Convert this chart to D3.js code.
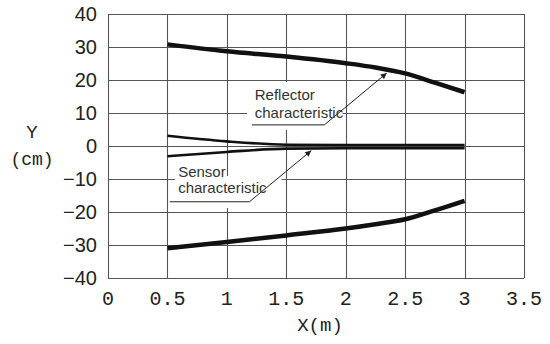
<!DOCTYPE html>
<html>
  <head>
    <meta charset="UTF-8">
    <title>Reflector and sensor characteristic</title>
    <style>
      body { margin: 0; background: #fff; }
    </style>
  </head>
  <body>
    <svg></svg>
    <script src="https://d3js.org/d3.v7.min.js"></script>
    <script>

// data (X in m, Y in cm)
var reflectorX     = [0.5, 1, 1.5, 2, 2.25, 2.5, 2.75, 3];
var reflectorUpper = [30.8, 28.7, 27.1, 25.1, 23.8, 22.0, 19.2, 16.3];
var reflectorLower = [-31.0, -29.1, -27.1, -25.0, -23.7, -22.2, -19.5, -16.6];

var sensorX     = [0.5, 1, 1.5, 2, 2.5, 3];
var sensorUpper = [3.1, 1.4, 0.4, 0.3, 0.3, 0.3];
var sensorLower = [-3.1, -1.8, -0.8, -0.7, -0.7, -0.7];

var xTicks = [0, 0.5, 1, 1.5, 2, 2.5, 3, 3.5];
var yTicks = [-40, -30, -20, -10, 0, 10, 20, 30, 40];

var config = {
  "width": 550,
  "height": 344,
  "plot": { "left": 108, "right": 524, "top": 14, "bottom": 278 }
};

// annotations, in data units
var notes = [
  { lines: ["Reflector", "characteristic"], textX: 1.235, textY: [15.5, 10.0],
    box: [1.17, 1.975, 19.4, 4.85],
    leader: [[1.21, 6.4], [1.82, 6.4], [2.345, 22.1]] },
  { lines: ["Sensor", "characteristic"], textX: 0.59, textY: [-7.8, -12.7],
    box: [0.563, 1.46, -9.1, -18.8],
    leader: [[0.52, -16.9], [1.19, -16.9], [1.71, -1.4]] }
];

var svg = d3.select("svg")
  .attr("width", config.width)
  .attr("height", config.height);

var p = config.plot;
var x = d3.scaleLinear().domain([0, 3.5]).range([p.left, p.right]);
var y = d3.scaleLinear().domain([-40, 40]).range([p.bottom, p.top]);

svg.append("defs").append("marker")
  .attr("id", "arr")
  .attr("viewBox", "0 0 10 10")
  .attr("refX", 10).attr("refY", 5)
  .attr("markerWidth", 9).attr("markerHeight", 6)
  .attr("markerUnits", "userSpaceOnUse")
  .attr("orient", "auto")
  .append("path")
    .attr("d", "M0,0 L10,5 L0,10 z")
    .attr("fill", "#222");

// grid
var grid = svg.append("g").attr("stroke", "#555").attr("stroke-width", 1.1);
grid.selectAll(".h").data(yTicks).enter().append("line")
  .attr("x1", p.left).attr("x2", p.right)
  .attr("y1", function(d) { return Math.round(y(d)) + 0.5; })
  .attr("y2", function(d) { return Math.round(y(d)) + 0.5; });
grid.selectAll(".v").data(xTicks).enter().append("line")
  .attr("y1", p.top).attr("y2", p.bottom)
  .attr("x1", function(d) { return Math.round(x(d)) + 0.5; })
  .attr("x2", function(d) { return Math.round(x(d)) + 0.5; });

// white boxes behind the labels
svg.selectAll(".box").data(notes).enter().append("rect")
  .attr("fill", "#fff")
  .attr("x", function(d) { return x(d.box[0]); })
  .attr("y", function(d) { return y(d.box[2]); })
  .attr("width", function(d) { return x(d.box[1]) - x(d.box[0]); })
  .attr("height", function(d) { return y(d.box[3]) - y(d.box[2]); });

// tick labels
svg.append("g").selectAll("text").data(yTicks).enter().append("text")
  .attr("x", 97)
  .attr("y", function(d) { return y(d); })
  .attr("dy", "0.36em")
  .attr("text-anchor", "end")
  .attr("font-family", "Liberation Sans, Arial, sans-serif")
  .attr("font-size", 20)
  .attr("fill", "#222")
  .text(function(d) { return d < 0 ? "\u2212" + (-d) : d; });

svg.append("g").selectAll("text").data(xTicks).enter().append("text")
  .attr("x", function(d) { return x(d); })
  .attr("y", 305)
  .attr("text-anchor", "middle")
  .attr("font-family", "Liberation Mono, DejaVu Sans Mono, monospace")
  .attr("font-size", 20)
  .attr("fill", "#222")
  .text(function(d) { return d; });

// axis titles
var mono = "Liberation Mono, DejaVu Sans Mono, monospace";
svg.append("text").attr("x", 32).attr("y", 138).attr("text-anchor", "middle")
  .attr("font-family", mono).attr("font-size", 19).attr("fill", "#222").text("Y");
svg.append("text").attr("x", 32).attr("y", 165).attr("text-anchor", "middle")
  .attr("font-family", mono).attr("font-size", 18).attr("fill", "#222").text("(cm)");
svg.append("text").attr("x", 320).attr("y", 331).attr("text-anchor", "middle")
  .attr("font-family", mono).attr("font-size", 19).attr("fill", "#222").text("X(m)");

// curves
var line = d3.line()
  .x(function(d) { return x(d[0]); })
  .y(function(d) { return y(d[1]); })
  .curve(d3.curveMonotoneX);

var series = [
  { xs: reflectorX, ys: reflectorUpper, w: 4.5 },
  { xs: reflectorX, ys: reflectorLower, w: 4.5 },
  { xs: sensorX, ys: sensorUpper, w: 2.6 },
  { xs: sensorX, ys: sensorLower, w: 2.6 }
];

svg.append("g").selectAll("path").data(series).enter().append("path")
  .attr("fill", "none")
  .attr("stroke", "#111")
  .attr("stroke-width", function(d) { return d.w; })
  .attr("d", function(d) { return line(d.xs.map(function(v, i) { return [v, d.ys[i]]; })); });

// leaders and labels
var leader = d3.line()
  .x(function(d) { return x(d[0]); })
  .y(function(d) { return y(d[1]); });

var ann = svg.append("g").selectAll("g").data(notes).enter().append("g");

ann.append("path")
  .attr("fill", "none")
  .attr("stroke", "#222")
  .attr("stroke-width", 1)
  .attr("marker-end", "url(#arr)")
  .attr("d", function(d) { return leader(d.leader); });

ann.each(function(d) {
  var g = d3.select(this);
  d.lines.forEach(function(t, i) {
    g.append("text")
      .attr("x", x(d.textX))
      .attr("y", y(d.textY[i]))
      .attr("dy", "0.36em")
      .attr("font-family", "Liberation Sans, Arial, sans-serif")
      .attr("font-size", 15)
      .attr("fill", "#333")
      .text(t);
  });
});

    </script>
  </body>
</html>
